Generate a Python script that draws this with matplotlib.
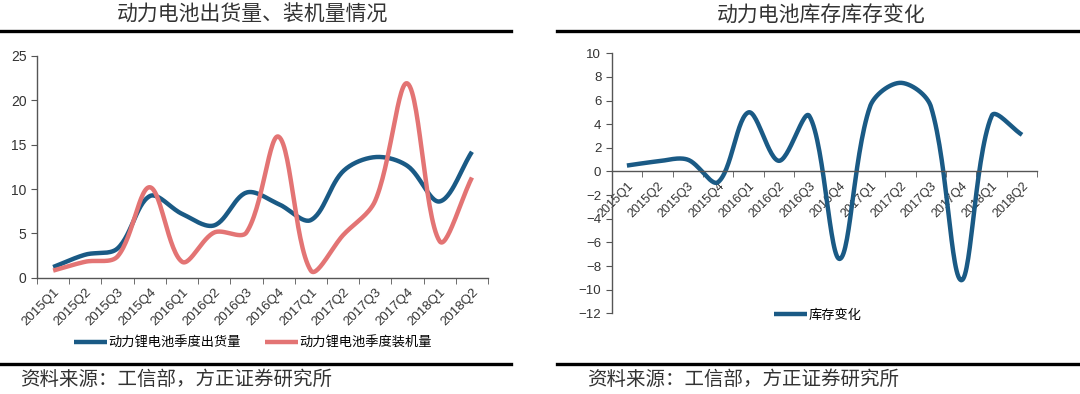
import numpy as np
import matplotlib
matplotlib.use("Agg")
import matplotlib.pyplot as plt
from matplotlib.lines import Line2D

plt.rcParams['font.family'] = ['Liberation Sans', 'Noto Sans CJK SC', 'DejaVu Sans']

quarters = ['2015Q1', '2015Q2', '2015Q3', '2015Q4', '2016Q1', '2016Q2', '2016Q3',
            '2016Q4', '2017Q1', '2017Q2', '2017Q3', '2017Q4', '2018Q1', '2018Q2']
shipment = [1.2, 2.6, 3.3, 9.2, 7.2, 5.9, 9.6, 8.3, 6.5, 12.0, 13.6, 12.6, 8.6, 14.2]
installed = [0.8, 1.8, 2.4, 10.2, 1.8, 5.1, 5.1, 15.9, 0.8, 4.8, 8.7, 21.9, 4.1, 11.3]
stock_change = [0.5, 0.85, 1.0, -0.9, 5.0, 0.9, 4.7, -7.4, 5.5, 7.5, 5.5, -9.2, 4.7, 3.1]

BLUE = '#1a5a85'
RED = '#e37474'
TXT = '#333333'
CJK = ['Noto Sans CJK SC', 'DejaVu Sans']


def smooth(y, sx, sy, n=30):
    # excel style smoothed line, tangents scaled by chord length in pixel space
    y = np.asarray(y, float)
    P = np.column_stack([np.arange(len(y)) * sx, y * sy])
    P = np.vstack([P[0], P, P[-1]])
    out = []
    t = np.linspace(0, 1, n, endpoint=False)[:, None]
    for i in range(len(y) - 1):
        p0, p1, p2, p3 = P[i], P[i + 1], P[i + 2], P[i + 3]
        d01 = np.hypot(*(p1 - p0))
        d12 = np.hypot(*(p2 - p1))
        d23 = np.hypot(*(p3 - p2))
        c1 = p1 + (p2 - p0) * d12 / (d01 + d12) / 3 if d01 > 0 else p1 + (p2 - p1) / 3
        c2 = p2 - (p3 - p1) * d12 / (d12 + d23) / 3 if d23 > 0 else p2 - (p2 - p1) / 3
        b = (1 - t) ** 3 * p1 + 3 * (1 - t) ** 2 * t * c1 + 3 * (1 - t) * t ** 2 * c2 + t ** 3 * p2
        out.append(b)
    out.append(P[-1][None, :])
    out = np.vstack(out)
    return out[:, 0] / sx, out[:, 1] / sy


def style_axis(ax, n):
    ax.set_xlim(-0.5, n - 0.5)
    ax.set_xticks(range(n))
    ax.set_xticklabels(quarters, rotation=45, ha='right', rotation_mode='anchor',
                       fontsize=9.5, color=TXT)
    ax.set_xticks(np.arange(n + 1) - 0.5, minor=True)
    ax.tick_params(axis='x', which='major', length=0, pad=6)
    ax.tick_params(axis='x', which='minor', length=4, color='#555555')
    ax.tick_params(axis='y', length=4, color='#555555', labelsize=10, labelcolor=TXT)
    for s in ['top', 'right']:
        ax.spines[s].set_visible(False)
    for s in ['left', 'bottom']:
        ax.spines[s].set_color('#555555')
        ax.spines[s].set_linewidth(1)


fig = plt.figure(figsize=(10.8, 3.94), dpi=100)

# left panel
ax1 = fig.add_axes([0.0343, 0.2952, 0.4176, 0.5627])
x, y = smooth(shipment, 32.3, 8.87)
ax1.plot(x, y, color=BLUE, lw=3.2, label='动力锂电池季度出货量', solid_capstyle='butt')
x, y = smooth(installed, 32.3, 8.87)
ax1.plot(x, y, color=RED, lw=3.2, label='动力锂电池季度装机量', solid_capstyle='butt')
ax1.set_ylim(0, 25)
ax1.set_yticks(range(0, 26, 5))
style_axis(ax1, len(quarters))
fig.legend(*ax1.get_legend_handles_labels(), loc='center', bbox_to_anchor=(0.234, 0.129),
           ncol=2, frameon=False, handlelength=2.5, handletextpad=0.1, columnspacing=1.8,
           prop={'family': CJK, 'size': 9.5})

# right panel
ax2 = fig.add_axes([0.5664, 0.2048, 0.394, 0.66])
x, y = smooth(stock_change, 30.4, 11.9)
ax2.plot(x, y, color=BLUE, lw=3.2, label='库存变化', solid_capstyle='butt')
ax2.set_ylim(-12, 10)
ax2.set_yticks(range(-12, 11, 2))
ax2.spines['bottom'].set_position(('data', 0))
style_axis(ax2, len(quarters))
ax2.tick_params(axis='x', labelsize=9)
ax2.tick_params(axis='y', labelsize=9.5)
fig.legend(*ax2.get_legend_handles_labels(), loc='center', bbox_to_anchor=(0.757, 0.2),
           frameon=False, handlelength=2.5, handletextpad=0.1,
           prop={'family': CJK, 'size': 9.5})

# titles, rules, source notes
fig.text(0.234, 0.962, '动力电池出货量、装机量情况', ha='center', va='center',
         fontsize=15, color=TXT, family=CJK)
fig.text(0.760, 0.962, '动力电池库存库存变化', ha='center', va='center',
         fontsize=15, color=TXT, family=CJK)
for x0, x1 in [(0.0, 0.473), (0.516, 1.0)]:
    fig.add_artist(Line2D([x0, x1], [0.922, 0.922], color='black', lw=2.4,
                          transform=fig.transFigure))
    fig.add_artist(Line2D([x0, x1], [0.076, 0.076], color='black', lw=2.4,
                          transform=fig.transFigure))
fig.text(0.0185, 0.036, '资料来源：工信部，方正证券研究所', ha='left', va='center',
         fontsize=14, color=TXT, family=CJK, style='italic')
fig.text(0.5435, 0.036, '资料来源：工信部，方正证券研究所', ha='left', va='center',
         fontsize=14, color=TXT, family=CJK, style='italic')

fig.savefig('out.png', dpi=100)
